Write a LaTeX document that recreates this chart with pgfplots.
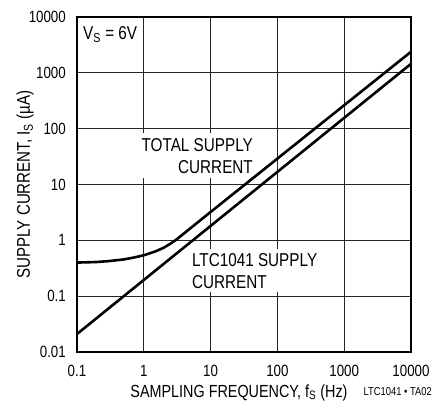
\documentclass[border=0pt]{standalone}
\usepackage{fontspec}
\setmainfont{Liberation Sans}[FakeStretch=0.82]
\usepackage{pgfplots}
\pgfplotsset{compat=1.18}
\newcommand\lbl{\fontsize{18.7}{22}\selectfont}
\newcommand\ticks{\fontsize{16.3}{19}\selectfont}
\newcommand\footfont{\fontsize{11.5}{13}\selectfont}

\begin{document}
\begin{tikzpicture}
\begin{axis}[
  name=ax,
  scale only axis, width=334bp, height=335bp,
  xmode=log, ymode=log,
  xmin=0.1, xmax=10000, ymin=0.01, ymax=10000,
  xtick={0.1,1,10,100,1000,10000},
  xticklabels={0.1,1,10,100,1000,10000},
  ytick={0.01,0.1,1,10,100,1000,10000},
  yticklabels={0.01,0.1,1,10,100,1000,10000},
  xminorticks=false, yminorticks=false,
  major tick length=0pt,
  grid=major,
  major grid style={line width=0.8bp, black!85},
  axis line style={line width=1.2bp},
  ticklabel style={font=\ticks, inner sep=0pt},
  xticklabel style={yshift=-13bp},
  yticklabel style={xshift=-11bp},
  /pgf/number format/assume math mode=true,
  clip=false,
  xlabel={SAMPLING FREQUENCY, f\textsubscript{S} (Hz)},
  xlabel style={at={(axis description cs:0.485,-0.135)}, anchor=base, inner sep=0pt,
    font=\fontsize{17.6}{20}\selectfont},
  ylabel={SUPPLY CURRENT, I\textsubscript{S} (µA)},
  ylabel style={at={(axis description cs:-0.141,0.5)}, anchor=base, inner sep=0pt,
    font=\fontsize{18.5}{20}\selectfont},
]
% labels first, their white boxes cut the grid
\node[fill=white, align=right, anchor=north east, inner sep=5bp, font=\lbl]
  at (axis description cs:0.542,0.654) {TOTAL SUPPLY\\CURRENT};
\node[fill=white, align=left, anchor=north west, inner sep=4bp, font=\lbl]
  at (axis description cs:0.332,0.307) {LTC1041 SUPPLY\\CURRENT};
\node[anchor=base west, inner sep=0pt, font=\lbl]
  at (axis description cs:0.018,0.934) {V\textsubscript{S} = 6V};
\node[anchor=base east, inner sep=0pt, font=\footfont]
  at (axis description cs:1.063,-0.131) {LTC1041 • TA02};

% total supply current
\addplot[black, line width=2.6bp] coordinates {
  (0.1,0.40) (0.15,0.405) (0.2,0.41) (0.3,0.425) (0.5,0.455) (0.7,0.49)
  (1,0.54) (1.5,0.635) (2,0.74) (2.5,0.87) (3.1,1.04)
  (10,3.22) (100,29.1) (1000,263) (10000,2380)
};
% LTC1041 supply current
\addplot[black, line width=2.6bp] coordinates {
  (0.1,0.021) (10000,1450)
};
\end{axis}
\pgfresetboundingbox
\useasboundingbox ([xshift=-77bp,yshift=-50bp]ax.south west) rectangle ([xshift=24bp,yshift=17bp]ax.north east);
\end{tikzpicture}
\end{document}
